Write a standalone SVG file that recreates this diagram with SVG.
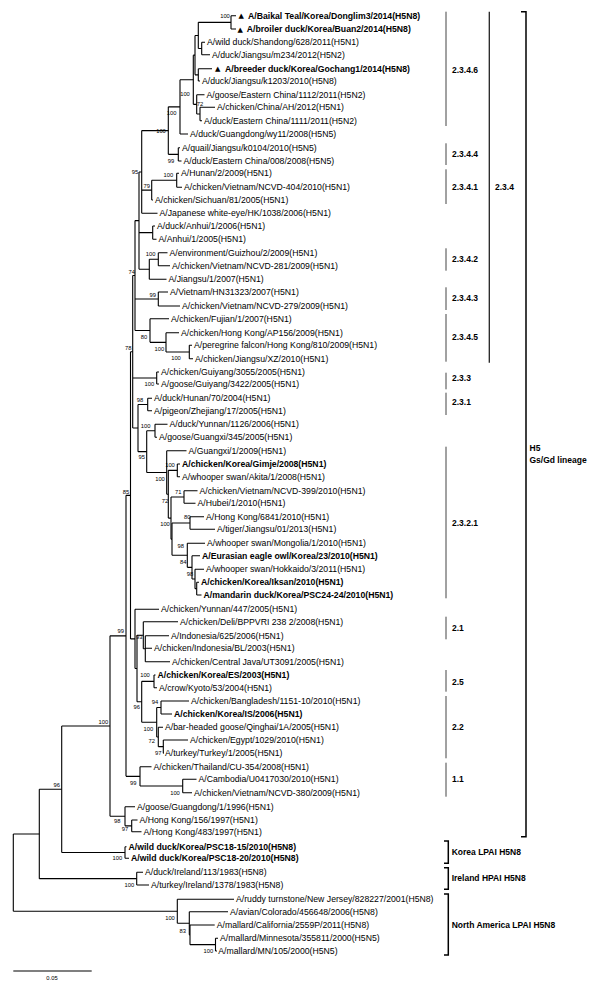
<svg xmlns="http://www.w3.org/2000/svg" width="600" height="993" viewBox="0 0 600 993">
<style>
.l{stroke:#000;stroke-width:1.1;fill:none}
.t{font-family:"Liberation Sans",Arial,sans-serif;font-size:8.7px;fill:#000}
.b{font-weight:bold}
.tri{font-family:"DejaVu Sans",sans-serif;font-size:7px;fill:#000}
.s{font-family:"Liberation Sans",Arial,sans-serif;font-size:5.8px;fill:#000;text-anchor:middle}
.c{font-family:"Liberation Sans",Arial,sans-serif;font-size:8.5px;font-weight:bold;fill:#000}
.bar{stroke:#444;stroke-width:1;fill:none}
.br{stroke:#000;stroke-width:1.5;fill:none}
</style>
<rect width="600" height="993" fill="#fff"/>
<g id="connectors">
<path class="l" d="M231 15.7V29M231 15.7H236M231 29H236"/>
<path class="l" d="M201.7 42.3V54.7M201.7 42.3H205M201.7 54.7H210"/>
<path class="l" d="M198.3 22.35V48.5M198.3 22.35H231M198.3 48.5H201.7"/>
<path class="l" d="M198.3 68.7V81M198.3 68.7H212M198.3 81H200"/>
<path class="l" d="M195 35.43V74.85M195 35.43H198.3M195 74.85H198.3"/>
<path class="l" d="M200 107.3V120.7M200 107.3H215M200 120.7H202"/>
<path class="l" d="M196.7 94.7V114M196.7 94.7H204.5M196.7 114H200"/>
<path class="l" d="M193.3 55.14V104.35M193.3 55.14H195M193.3 104.35H196.7"/>
<path class="l" d="M180 79.75V134M180 79.75H193.3M180 134H188"/>
<path class="l" d="M178.3 147.7V161M178.3 147.7H180M178.3 161H181.5"/>
<path class="l" d="M168.3 106.87V154.35M168.3 106.87H180M168.3 154.35H178.3"/>
<path class="l" d="M176.7 173.3V187.3M176.7 173.3H179M176.7 187.3H182"/>
<path class="l" d="M151.7 180.3V200M151.7 180.3H176.7M151.7 200H153"/>
<path class="l" d="M141.7 130.61V213.3M141.7 130.61H168.3M141.7 190.15H151.7M141.7 213.3H157.5"/>
<path class="l" d="M152.7 226V239.3M152.7 226H155M152.7 239.3H156.5"/>
<path class="l" d="M158.3 252.7V265.7M158.3 252.7H167.5M158.3 265.7H170"/>
<path class="l" d="M149.3 259.2V279.3M149.3 259.2H158.3M149.3 279.3H166.5"/>
<path class="l" d="M139 171.96V269.25M139 171.96H141.7M139 232.65H152.7M139 269.25H149.3"/>
<path class="l" d="M158.3 292V306M158.3 292H168M158.3 306H180"/>
<path class="l" d="M189.3 345.3V358.7M189.3 345.3H192M189.3 358.7H193"/>
<path class="l" d="M166 332.7V352M166 332.7H179M166 352H189.3"/>
<path class="l" d="M150 318.7V342.35M150 318.7H169M150 342.35H166"/>
<path class="l" d="M135 220.6V330.53M135 220.6H139M135 299H158.3M135 330.53H150"/>
<path class="l" d="M156.7 372V384M156.7 372H159M156.7 384H159"/>
<path class="l" d="M147.7 398.3V410.7M147.7 398.3H152M147.7 410.7H152"/>
<path class="l" d="M155 424.3V437.3M155 424.3H167.5M155 437.3H157"/>
<path class="l" d="M177.3 464V476.7M177.3 464H180M177.3 476.7H180"/>
<path class="l" d="M184 490.7V503.3M184 490.7H197.5M184 503.3H195.5"/>
<path class="l" d="M190 516.7V529.3M190 516.7H204M190 529.3H215"/>
<path class="l" d="M196.7 582.3V595M196.7 582.3H199M196.7 595H201.5"/>
<path class="l" d="M195 569.3V588.65M195 569.3H204M195 588.65H196.7"/>
<path class="l" d="M192 555.7V578.98M192 555.7H200M192 578.98H195"/>
<path class="l" d="M187.3 543.3V567.34M187.3 543.3H205M187.3 567.34H192"/>
<path class="l" d="M172 523V555.32M172 523H190M172 555.32H187.3"/>
<path class="l" d="M171 497V539.16M171 497H184M171 539.16H172"/>
<path class="l" d="M168.3 470.35V518.08M168.3 470.35H177.3M168.3 518.08H171"/>
<path class="l" d="M166.7 450.7V494.2M166.7 450.7H186.5M166.7 494.2H168.3"/>
<path class="l" d="M146.7 430.8V472.45M146.7 430.8H155M146.7 472.45H166.7"/>
<path class="l" d="M138 404.5V451.63M138 404.5H147.7M138 451.63H146.7"/>
<path class="l" d="M132.7 275.57V428.07M132.7 275.57H135M132.7 378H156.7M132.7 428.07H138"/>
<path class="l" d="M145.3 635.7V661.7M145.3 635.7H169M145.3 648.3H152M145.3 661.7H170"/>
<path class="l" d="M143.3 621.7V648.7M143.3 621.7H178M143.3 648.7H145.3"/>
<path class="l" d="M154 675V687.7M154 675H155.5M154 687.7H157"/>
<path class="l" d="M161 701V714M161 701H189M161 714H172"/>
<path class="l" d="M163.3 740V753.3M163.3 740H188M163.3 753.3H164"/>
<path class="l" d="M158.3 727.3V746.65M158.3 727.3H163M158.3 746.65H163.3"/>
<path class="l" d="M156.7 707.5V736.98M156.7 707.5H161M156.7 736.98H158.3"/>
<path class="l" d="M141.7 681.35V722.24M141.7 681.35H154M141.7 722.24H156.7"/>
<path class="l" d="M137 635.2V701.8M137 635.2H143.3M137 701.8H141.7"/>
<path class="l" d="M135 609.3V668.5M135 609.3H159M135 668.5H137"/>
<path class="l" d="M130.5 351.82V638.9M130.5 351.82H132.7M130.5 638.9H135"/>
<path class="l" d="M182.7 779.3V792.7M182.7 779.3H196.5M182.7 792.7H192"/>
<path class="l" d="M140 766.7V786M140 766.7H151.5M140 786H182.7"/>
<path class="l" d="M126 495.36V776.35M126 495.36H130.5M126 776.35H140"/>
<path class="l" d="M131.7 820V831.7M131.7 820H137.5M131.7 831.7H141.5"/>
<path class="l" d="M125 806.7V825.85M125 806.7H135M125 825.85H131.7"/>
<path class="l" d="M110 635.86V816.28M110 635.86H126M110 816.28H125"/>
<path class="l" d="M125 846.7V858.3M125 846.7H126.5M125 858.3H129"/>
<path class="l" d="M61.7 726.07V852.5M61.7 726.07H110M61.7 852.5H125"/>
<path class="l" d="M136.7 872.3V885M136.7 872.3H143M136.7 885H149"/>
<path class="l" d="M39.3 789.29V878.65M39.3 789.29H61.7M39.3 878.65H136.7"/>
<path class="l" d="M215.5 938.3V951M215.5 938.3H218M215.5 951H217"/>
<path class="l" d="M190 925V944.65M190 925H214.7M190 944.65H215.5"/>
<path class="l" d="M189.3 911.7V934.83M189.3 911.7H228M189.3 934.83H190"/>
<path class="l" d="M177.3 899.3V923.27M177.3 899.3H234M177.3 923.27H189.3"/>
<path class="l" d="M13.3 833.97V911.28M13.3 833.97H39.3M13.3 911.28H177.3"/>
</g>
<g id="leaves">
<g id="L1"><text class="tri" x="238.5" y="18.3">▲</text><text class="t b" x="248" y="18.8">A/Baikal Teal/Korea/Donglim3/2014(H5N8)</text></g>
<g id="L2"><text class="tri" x="237.5" y="31.6">▲</text><text class="t b" x="246.7" y="32.1">A/broiler duck/Korea/Buan2/2014(H5N8)</text></g>
<g id="L3"><text class="t" x="207" y="45.4">A/wild duck/Shandong/628/2011(H5N1)</text></g>
<g id="L4"><text class="t" x="212" y="57.8">A/duck/Jiangsu/m234/2012(H5N2)</text></g>
<g id="L5"><text class="tri" x="215" y="71.3">▲</text><text class="t b" x="225" y="71.8">A/breeder duck/Korea/Gochang1/2014(H5N8)</text></g>
<g id="L6"><text class="t" x="202" y="84.1">A/duck/Jiangsu/k1203/2010(H5N8)</text></g>
<g id="L7"><text class="t" x="206.5" y="97.8">A/goose/Eastern China/1112/2011(H5N2)</text></g>
<g id="L8"><text class="t" x="217" y="110.4">A/chicken/China/AH/2012(H5N1)</text></g>
<g id="L9"><text class="t" x="204" y="123.8">A/duck/Eastern China/1111/2011(H5N2)</text></g>
<g id="L10"><text class="t" x="190" y="137.1">A/duck/Guangdong/wy11/2008(H5N5)</text></g>
<g id="L11"><text class="t" x="182" y="150.8">A/quail/Jiangsu/k0104/2010(H5N5)</text></g>
<g id="L12"><text class="t" x="183.5" y="164.1">A/duck/Eastern China/008/2008(H5N5)</text></g>
<g id="L13"><text class="t" x="181" y="176.4">A/Hunan/2/2009(H5N1)</text></g>
<g id="L14"><text class="t" x="184" y="190.4">A/chicken/Vietnam/NCVD-404/2010(H5N1)</text></g>
<g id="L15"><text class="t" x="155" y="203.1">A/chicken/Sichuan/81/2005(H5N1)</text></g>
<g id="L16"><text class="t" x="159.5" y="216.4">A/Japanese white-eye/HK/1038/2006(H5N1)</text></g>
<g id="L17"><text class="t" x="157" y="229.1">A/duck/Anhui/1/2006(H5N1)</text></g>
<g id="L18"><text class="t" x="158.5" y="242.4">A/Anhui/1/2005(H5N1)</text></g>
<g id="L19"><text class="t" x="169.5" y="255.8">A/environment/Guizhou/2/2009(H5N1)</text></g>
<g id="L20"><text class="t" x="172" y="268.8">A/chicken/Vietnam/NCVD-281/2009(H5N1)</text></g>
<g id="L21"><text class="t" x="168.5" y="282.4">A/Jiangsu/1/2007(H5N1)</text></g>
<g id="L22"><text class="t" x="170" y="295.1">A/Vietnam/HN31323/2007(H5N1)</text></g>
<g id="L23"><text class="t" x="182" y="309.1">A/chicken/Vietnam/NCVD-279/2009(H5N1)</text></g>
<g id="L24"><text class="t" x="171" y="321.8">A/chicken/Fujian/1/2007(H5N1)</text></g>
<g id="L25"><text class="t" x="181" y="335.8">A/chicken/Hong Kong/AP156/2009(H5N1)</text></g>
<g id="L26"><text class="t" x="194" y="348.4">A/peregrine falcon/Hong Kong/810/2009(H5N1)</text></g>
<g id="L27"><text class="t" x="195" y="361.8">A/chicken/Jiangsu/XZ/2010(H5N1)</text></g>
<g id="L28"><text class="t" x="161" y="375.1">A/chicken/Guiyang/3055/2005(H5N1)</text></g>
<g id="L29"><text class="t" x="161" y="387.1">A/goose/Guiyang/3422/2005(H5N1)</text></g>
<g id="L30"><text class="t" x="154" y="401.4">A/duck/Hunan/70/2004(H5N1)</text></g>
<g id="L31"><text class="t" x="154" y="413.8">A/pigeon/Zhejiang/17/2005(H5N1)</text></g>
<g id="L32"><text class="t" x="169.5" y="427.4">A/duck/Yunnan/1126/2006(H5N1)</text></g>
<g id="L33"><text class="t" x="159" y="440.4">A/goose/Guangxi/345/2005(H5N1)</text></g>
<g id="L34"><text class="t" x="188.5" y="453.8">A/Guangxi/1/2009(H5N1)</text></g>
<g id="L35"><text class="t b" x="182" y="467.1">A/chicken/Korea/Gimje/2008(H5N1)</text></g>
<g id="L36"><text class="t" x="182" y="479.8">A/whooper swan/Akita/1/2008(H5N1)</text></g>
<g id="L37"><text class="t" x="199.5" y="493.8">A/chicken/Vietnam/NCVD-399/2010(H5N1)</text></g>
<g id="L38"><text class="t" x="197.5" y="506.4">A/Hubei/1/2010(H5N1)</text></g>
<g id="L39"><text class="t" x="206" y="519.8">A/Hong Kong/6841/2010(H5N1)</text></g>
<g id="L40"><text class="t" x="217" y="532.4">A/tiger/Jiangsu/01/2013(H5N1)</text></g>
<g id="L41"><text class="t" x="207" y="546.4">A/whooper swan/Mongolia/1/2010(H5N1)</text></g>
<g id="L42"><text class="t b" x="202" y="558.8">A/Eurasian eagle owl/Korea/23/2010(H5N1)</text></g>
<g id="L43"><text class="t" x="206" y="572.4">A/whooper swan/Hokkaido/3/2011(H5N1)</text></g>
<g id="L44"><text class="t b" x="201" y="585.4">A/chicken/Korea/Iksan/2010(H5N1)</text></g>
<g id="L45"><text class="t b" x="203.5" y="598.1">A/mandarin duck/Korea/PSC24-24/2010(H5N1)</text></g>
<g id="L46"><text class="t" x="161" y="612.4">A/chicken/Yunnan/447/2005(H5N1)</text></g>
<g id="L47"><text class="t" x="180" y="624.8">A/chicken/Deli/BPPVRI 238 2/2008(H5N1)</text></g>
<g id="L48"><text class="t" x="171" y="638.8">A/Indonesia/625/2006(H5N1)</text></g>
<g id="L49"><text class="t" x="154" y="651.4">A/chicken/Indonesia/BL/2003(H5N1)</text></g>
<g id="L50"><text class="t" x="172" y="664.8">A/chicken/Central Java/UT3091/2005(H5N1)</text></g>
<g id="L51"><text class="t b" x="157.5" y="678.1">A/chicken/Korea/ES/2003(H5N1)</text></g>
<g id="L52"><text class="t" x="159" y="690.8">A/crow/Kyoto/53/2004(H5N1)</text></g>
<g id="L53"><text class="t" x="191" y="704.1">A/chicken/Bangladesh/1151-10/2010(H5N1)</text></g>
<g id="L54"><text class="t b" x="174" y="717.1">A/chicken/Korea/IS/2006(H5N1)</text></g>
<g id="L55"><text class="t" x="165" y="730.4">A/bar-headed goose/Qinghai/1A/2005(H5N1)</text></g>
<g id="L56"><text class="t" x="190" y="743.1">A/chicken/Egypt/1029/2010(H5N1)</text></g>
<g id="L57"><text class="t" x="165" y="756.4">A/turkey/Turkey/1/2005(H5N1)</text></g>
<g id="L58"><text class="t" x="153.5" y="769.8">A/chicken/Thailand/CU-354/2008(H5N1)</text></g>
<g id="L59"><text class="t" x="198.5" y="782.4">A/Cambodia/U0417030/2010(H5N1)</text></g>
<g id="L60"><text class="t" x="194" y="795.8">A/chicken/Vietnam/NCVD-380/2009(H5N1)</text></g>
<g id="L61"><text class="t" x="137" y="809.8">A/goose/Guangdong/1/1996(H5N1)</text></g>
<g id="L62"><text class="t" x="139.5" y="823.1">A/Hong Kong/156/1997(H5N1)</text></g>
<g id="L63"><text class="t" x="143.5" y="834.8">A/Hong Kong/483/1997(H5N1)</text></g>
<g id="L64"><text class="t b" x="128.5" y="849.8">A/wild duck/Korea/PSC18-15/2010(H5N8)</text></g>
<g id="L65"><text class="t b" x="131" y="861.4">A/wild duck/Korea/PSC18-20/2010(H5N8)</text></g>
<g id="L66"><text class="t" x="145" y="875.4">A/duck/Ireland/113/1983(H5N8)</text></g>
<g id="L67"><text class="t" x="151" y="888.1">A/turkey/Ireland/1378/1983(H5N8)</text></g>
<g id="L68"><text class="t" x="236" y="902.4">A/ruddy turnstone/New Jersey/828227/2001(H5N8)</text></g>
<g id="L69"><text class="t" x="230" y="914.8">A/avian/Colorado/456648/2006(H5N8)</text></g>
<g id="L70"><text class="t" x="216.7" y="928.1">A/mallard/California/2559P/2011(H5N8)</text></g>
<g id="L71"><text class="t" x="220" y="941.4">A/mallard/Minnesota/355811/2000(H5N5)</text></g>
<g id="L72"><text class="t" x="218.3" y="954.1">A/mallard/MN/105/2000(H5N5)</text></g>
</g>
<g id="bootstrap">
<text class="s" x="225" y="18">100</text>
<text class="s" x="185" y="96.3">100</text>
<text class="s" x="200" y="106">72</text>
<text class="s" x="171.7" y="114.7">100</text>
<text class="s" x="161" y="132.7">100</text>
<text class="s" x="171" y="163">99</text>
<text class="s" x="135" y="173.7">95</text>
<text class="s" x="168.3" y="177">100</text>
<text class="s" x="146.7" y="188">79</text>
<text class="s" x="150.7" y="256">100</text>
<text class="s" x="131.7" y="273.7">74</text>
<text class="s" x="152.7" y="297">99</text>
<text class="s" x="144" y="338.7">80</text>
<text class="s" x="128.3" y="350.3">78</text>
<text class="s" x="159.3" y="351.3">100</text>
<text class="s" x="176" y="360.3">100</text>
<text class="s" x="149.3" y="386">100</text>
<text class="s" x="140" y="402">98</text>
<text class="s" x="145.7" y="428">100</text>
<text class="s" x="141.7" y="459.3">95</text>
<text class="s" x="170" y="467">100</text>
<text class="s" x="160" y="481.3">100</text>
<text class="s" x="126" y="494.3">85</text>
<text class="s" x="178.3" y="493.7">71</text>
<text class="s" x="165" y="502.7">72</text>
<text class="s" x="187.3" y="519.3">80</text>
<text class="s" x="165" y="526">100</text>
<text class="s" x="180.7" y="548">98</text>
<text class="s" x="183.3" y="563.7">84</text>
<text class="s" x="190" y="576">98</text>
<text class="s" x="120.7" y="632.7">99</text>
<text class="s" x="139.3" y="639.3">93</text>
<text class="s" x="145" y="677">100</text>
<text class="s" x="155" y="703.7">94</text>
<text class="s" x="136.7" y="709.3">96</text>
<text class="s" x="103.3" y="723.7">100</text>
<text class="s" x="148.3" y="731.3">100</text>
<text class="s" x="151.7" y="742.7">72</text>
<text class="s" x="158.3" y="755.3">97</text>
<text class="s" x="56.7" y="787">96</text>
<text class="s" x="133.3" y="785.3">99</text>
<text class="s" x="175" y="794.7">100</text>
<text class="s" x="117.3" y="822.7">98</text>
<text class="s" x="125" y="831.3">97</text>
<text class="s" x="117.3" y="860.3">100</text>
<text class="s" x="129.3" y="887">100</text>
<text class="s" x="170" y="919.7">100</text>
<text class="s" x="182.7" y="932.7">83</text>
<text class="s" x="208.3" y="953">100</text>
</g>
<g id="clades">
<g id="c2346"><path class="bar" d="M446 11.7V126"/><text class="c" x="452" y="73">2.3.4.6</text></g>
<g id="c2344"><path class="bar" d="M446 143.3V165"/><text class="c" x="452" y="157.3">2.3.4.4</text></g>
<g id="c2341"><path class="bar" d="M446 169.3V204"/><text class="c" x="452" y="189.7">2.3.4.1</text></g>
<g id="c2342"><path class="bar" d="M446 248.3V270.7"/><text class="c" x="452" y="262.3">2.3.4.2</text></g>
<g id="c2343"><path class="bar" d="M446 287.3V310"/><text class="c" x="452" y="301.3">2.3.4.3</text></g>
<g id="c2345"><path class="bar" d="M446 314V361.7"/><text class="c" x="452" y="340.3">2.3.4.5</text></g>
<g id="c234"><path class="bar" d="M489.3 11.7V362.7" style="stroke:#222;stroke-width:1.3"/><text class="c" x="495" y="189.7">2.3.4</text></g>
<g id="c233"><path class="bar" d="M446 372.7V389.3"/><text class="c" x="452" y="381.3">2.3.3</text></g>
<g id="c231"><path class="bar" d="M446 392.7V415"/><text class="c" x="452" y="404.7">2.3.1</text></g>
<g id="c2321"><path class="bar" d="M446 446.7V598.3"/><text class="c" x="452" y="526.3">2.3.2.1</text></g>
<g id="c21"><path class="bar" d="M446 616.7V639.3"/><text class="c" x="452" y="631.3">2.1</text></g>
<g id="c25"><path class="bar" d="M446 670V691.7"/><text class="c" x="452" y="684.7">2.5</text></g>
<g id="c22"><path class="bar" d="M446 696V758.3"/><text class="c" x="452" y="730.3">2.2</text></g>
<g id="c11"><path class="bar" d="M446 762.7V796.7"/><text class="c" x="452" y="782.3">1.1</text></g>
<g id="cH5"><path class="br" d="M521 11.7H526V836.7H521"/><text class="c" x="529.5" y="451">H5</text><text class="c" x="529.5" y="463">Gs/Gd lineage</text></g>
<g id="cKorea"><path class="br" d="M444 841H448.3V863.3H444"/><text class="c" x="451.7" y="855.3">Korea LPAI H5N8</text></g>
<g id="cIreland"><path class="br" d="M444 867.7H448.3V889.3H444"/><text class="c" x="451.7" y="881.3">Ireland HPAI H5N8</text></g>
<g id="cNA"><path class="br" d="M444 894H448.3V955H444"/><text class="c" x="451.7" y="928">North America LPAI H5N8</text></g>
</g>
<g id="scale"><path class="l" d="M13.3 971H91.7"/><text class="s" x="52" y="980">0.05</text></g>
</svg>
